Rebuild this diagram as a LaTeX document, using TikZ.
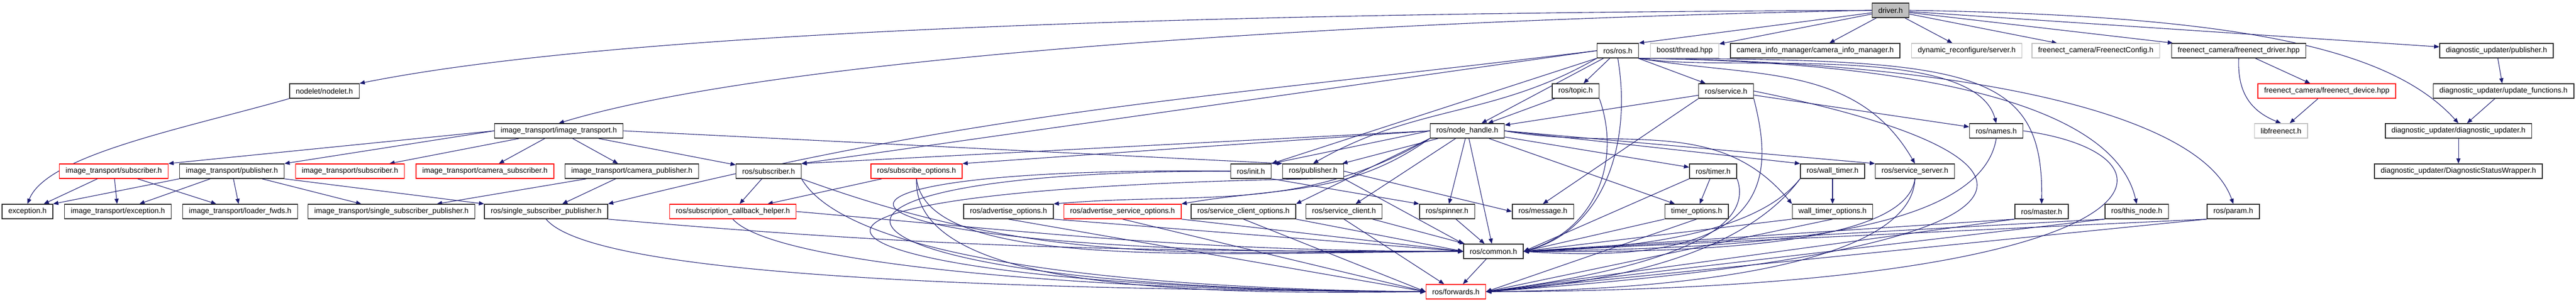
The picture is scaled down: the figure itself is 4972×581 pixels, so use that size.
\documentclass[tikz,border=0pt]{standalone}
\usepackage{fontspec}
\setmainfont{Liberation Sans}
\usepackage{xcolor}
\usetikzlibrary{arrows.meta,backgrounds}
\definecolor{edgeblue}{HTML}{191970}
\definecolor{missred}{HTML}{FF0000}
\definecolor{extgray}{HTML}{BFBFBF}

\begin{document}
\begin{tikzpicture}[x=1pt,y=-1pt,
        hdr/.style = {rectangle, draw=black!85, line width=1.5pt, fill=white, minimum height=28pt, inner xsep=12pt, inner ysep=0pt, font=\fontsize{14.4}{16}\selectfont},
        hdrred/.style = {hdr, draw=missred},
        hdrgray/.style = {hdr, draw=extgray},
        hdrroot/.style = {hdr, fill=extgray},
        dep/.style = {-{Triangle[length=10pt,width=8pt]}, line width=1.1pt, draw=edgeblue}]
    \useasboundingbox (0,0) rectangle (4972,581);

    \node[hdrroot] (driver) at (3649, 20) {driver.h};

    \node[hdr] (rosros) at (3122.5, 98) {ros/ros.h};
    \node[hdrgray] (boost) at (3251.5, 98) {boost/thread.hpp};
    \node[hdr] (caminfo) at (3503.5, 98) {camera\_info\_manager/camera\_info\_manager.h};
    \node[hdrgray] (dynrec) at (3796, 98) {dynamic\_reconfigure/server.h};
    \node[hdrgray] (fcfg) at (4045, 98) {freenect\_camera/FreenectConfig.h};
    \node[hdr] (fdriver) at (4321, 98) {freenect\_camera/freenect\_driver.hpp};
    \node[hdr] (diagpub) at (4818.5, 98) {diagnostic\_updater/publisher.h};

    \node[hdr] (nodelet) at (626, 176) {nodelet/nodelet.h};
    \node[hdr] (topic) at (3041, 176) {ros/topic.h};
    \node[hdr] (service) at (3331.5, 176) {ros/service.h};
    \node[hdrred] (fdevice) at (4491, 176) {freenect\_camera/freenect\_device.hpp};
    \node[hdr] (updfunc) at (4832, 176) {diagnostic\_updater/update\_functions.h};

    \node[hdr] (itrans) at (1078.5, 253) {image\_transport/image\_transport.h};
    \node[hdr] (nodehandle) at (2832, 253) {ros/node\_handle.h};
    \node[hdr] (names) at (3853, 253) {ros/names.h};
    \node[hdrgray] (libfn) at (4402.5, 253) {libfreenect.h};
    \node[hdr] (diagupd) at (4745, 253) {diagnostic\_updater/diagnostic\_updater.h};

    \node[hdrred] (itsubA) at (219.5, 331) {image\_transport/subscriber.h};
    \node[hdr] (itpub) at (447.5, 331) {image\_transport/publisher.h};
    \node[hdrred] (itsubB) at (675.5, 331) {image\_transport/subscriber.h};
    \node[hdrred] (itcamsub) at (936, 331) {image\_transport/camera\_subscriber.h};
    \node[hdr] (itcampub) at (1219.5, 331) {image\_transport/camera\_publisher.h};
    \node[hdr] (rossub) at (1483.5, 331) {ros/subscriber.h};
    \node[hdrred] (subopts) at (1769, 331) {ros/subscribe\_options.h};
    \node[hdr] (init) at (2414.5, 331) {ros/init.h};
    \node[hdr] (rospub) at (2534.5, 331) {ros/publisher.h};
    \node[hdr] (timer) at (3306.5, 331) {ros/timer.h};
    \node[hdr] (walltimer) at (3537, 331) {ros/wall\_timer.h};
    \node[hdr] (srvserver) at (3696, 331) {ros/service\_server.h};
    \node[hdr] (dsw) at (4745, 331) {diagnostic\_updater/DiagnosticStatusWrapper.h};

    \node[hdr] (exception) at (53, 409) {exception.h};
    \node[hdr] (itexc) at (227.5, 409) {image\_transport/exception.h};
    \node[hdr] (loader) at (463.5, 409) {image\_transport/loader\_fwds.h};
    \node[hdr] (itssp) at (755.5, 409) {image\_transport/single\_subscriber\_publisher.h};
    \node[hdr] (rosssp) at (1054, 409) {ros/single\_subscriber\_publisher.h};
    \node[hdrred] (subcb) at (1414.5, 409) {ros/subscription\_callback\_helper.h};
    \node[hdr] (advopts) at (1946.5, 409) {ros/advertise\_options.h};
    \node[hdrred] (advsrvopts) at (2166.5, 409) {ros/advertise\_service\_options.h};
    \node[hdr] (srvclopts) at (2400, 409) {ros/service\_client\_options.h};
    \node[hdr] (srvclient) at (2594, 409) {ros/service\_client.h};
    \node[hdr] (spinner) at (2793, 409) {ros/spinner.h};
    \node[hdr] (message) at (2978, 409) {ros/message.h};
    \node[hdr] (timeropts) at (3274.5, 409) {timer\_options.h};
    \node[hdr] (walltimeropts) at (3537, 409) {wall\_timer\_options.h};
    \node[hdr] (master) at (3940.5, 409) {ros/master.h};
    \node[hdr] (thisnode) at (4124, 409) {ros/this\_node.h};
    \node[hdr] (param) at (4310.5, 409) {ros/param.h};

    \node[hdr] (common) at (2882.5, 486) {ros/common.h};
    \node[hdrred] (forwards) at (2810, 564) {ros/forwards.h};

    \begin{scope}[on background layer]
    \draw[dep] (driver) to (rosros.north east);
    \draw[dep] (driver) to (boost);
    \draw[dep] (driver) to (caminfo);
    \draw[dep] (driver) to (dynrec);
    \draw[dep] (driver) to (fcfg);
    \draw[dep] (driver) to (fdriver);
    \draw[dep] (driver) to (diagpub);
    \draw[dep] (driver.west) .. controls (2300,25) and (1200,60) .. (nodelet.north east);
    \draw[dep] (driver.west) .. controls (2600,40) and (1500,110) .. (itrans.north);
    \draw[dep] (driver.east) .. controls (4350,30) and (4620,100) .. (diagupd.north);

    \draw[dep] (rosros) to (nodehandle);
    \draw[dep] (rosros) to (topic);
    \draw[dep] (rosros) to (service);
    \draw[dep] (rosros.south west) .. controls (2884,227) and (2733,202) .. (rospub.north);
    \draw[dep] (rosros.south west) to (init.north east);
    \draw[dep] (rosros.west) to (rossub.north east);
    \draw[dep] (rosros.west) .. controls (2324,191) and (1911,210) .. (rosssp.north east);
    \draw[dep] (rosros.south) .. controls (3150,274) and (3098,444) .. (common.east);
    \draw[dep] (rosros.south east) .. controls (3385,151) and (3583,121) .. (srvserver.north);
    \draw[dep] (rosros.south east) .. controls (3325,141) and (3810,79) .. (names.north);
    \draw[dep] (rosros.south east) .. controls (3800,115) and (3945,130) .. (master.north);
    \draw[dep] (rosros.south east) .. controls (3700,120) and (4080,200) .. (thisnode.north);
    \draw[dep] (rosros.south east) .. controls (3800,120) and (4250,220) .. (param.north);

    \draw[dep] (nodehandle) to (rospub);
    \draw[dep] (nodehandle.west) to (rossub.north east);
    \draw[dep] (nodehandle.west) to (subopts.north east);
    \draw[dep] (nodehandle.west) to (init.north east);
    \draw[dep] (nodehandle.south west) .. controls (2509,413) and (2323,370) .. (advopts.north east);
    \draw[dep] (nodehandle.south west) .. controls (2601,380) and (2472,361) .. (advsrvopts.north east);
    \draw[dep] (nodehandle.south west) to (srvclopts.north east);
    \draw[dep] (nodehandle) to (srvclient);
    \draw[dep] (nodehandle) to (spinner);
    \draw[dep] (nodehandle) to (common);
    \draw[dep] (nodehandle) to (timeropts);
    \draw[dep] (nodehandle) to (timer);
    \draw[dep] (nodehandle.east) to (walltimer.north west);
    \draw[dep] (nodehandle.east) to (srvserver.north west);
    \draw[dep] (nodehandle.east) .. controls (3126,293) and (3314,220) .. (walltimeropts.north west);

    \draw[dep] (topic) to (nodehandle);
    \draw[dep] (topic.south east) .. controls (3130,311) and (3080,445) .. (common.east);

    \draw[dep] (service) to (nodehandle);
    \draw[dep] (service.south west) to (message.north);
    \draw[dep] (service) to (names);
    \draw[dep] (service.south east) .. controls (3420,330) and (3440,520) .. (common.east);
    \draw[dep] (service.east) .. controls (4000,300) and (4060,480) .. (forwards.east);

    \draw[dep] (names.south) .. controls (3820,470) and (3300,480) .. (common.east);
    \draw[dep] (names.east) .. controls (4250,300) and (4200,560) .. (forwards.east);

    \draw[dep] (rospub.east) to (message.west);
    \draw[dep] (rospub.south east) to (common.north west);
    \draw[dep] (rospub.south) .. controls (1200,370) and (1550,560) .. (forwards.west);

    \draw[dep] (rossub) to (subcb);
    \draw[dep] (rossub.south east) .. controls (2022,519) and (2317,486) .. (common.west);
    \draw[dep] (rossub.south east) .. controls (1650,520) and (2300,560) .. (forwards.west);

    \draw[dep] (subopts) to (subcb);
    \draw[dep] (subopts.south) .. controls (1790,520) and (2300,490) .. (common.west);
    \draw[dep] (subopts.south) .. controls (1760,560) and (2300,570) .. (forwards.west);

    \draw[dep] (init.south east) to (spinner.north west);
    \draw[dep] (init.west) .. controls (1400,320) and (1500,500) .. (common.west);
    \draw[dep] (init.west) .. controls (1400,330) and (1500,560) .. (forwards.west);

    \draw[dep] (rosssp.south east) .. controls (1817,480) and (2176,486) .. (common.west);
    \draw[dep] (rosssp.south) .. controls (1150,540) and (2000,560) .. (forwards.west);
    \draw[dep] (subcb.east) .. controls (2038,453) and (2319,486) .. (common.west);
    \draw[dep] (subcb.south) .. controls (1500,520) and (2200,565) .. (forwards.west);

    \draw[dep] (advopts.south east) to (common.west);
    \draw[dep] (advopts.south) to (forwards.west);
    \draw[dep] (advsrvopts.south east) to (common.west);
    \draw[dep] (advsrvopts.south) to (forwards.west);
    \draw[dep] (srvclopts.south east) to (common.west);
    \draw[dep] (srvclopts.south) to (forwards.west);
    \draw[dep] (srvclient) to (common);
    \draw[dep] (srvclient.south) to (forwards);
    \draw[dep] (spinner) to (common);

    \draw[dep] (timer) to (timeropts);
    \draw[dep] (timer.south west) to (common.east);
    \draw[dep] (timer.south east) .. controls (3390,450) and (3200,520) .. (forwards.east);
    \draw[dep] (timeropts.south west) to (common.east);
    \draw[dep] (timeropts.south) to (forwards.east);

    \draw[dep] (walltimer) to (walltimeropts);
    \draw[dep] (walltimer.south west) .. controls (3400,440) and (3200,480) .. (common.east);
    \draw[dep] (walltimer.south west) .. controls (3390,460) and (3200,540) .. (forwards.east);
    \draw[dep] (walltimeropts.south west) to (common.east);
    \draw[dep] (walltimeropts.south) to (forwards.east);

    \draw[dep] (srvserver.south) .. controls (3680,470) and (3300,490) .. (common.east);
    \draw[dep] (srvserver.south) .. controls (3690,500) and (3300,560) .. (forwards.east);

    \draw[dep] (master.south west) to (common.east);
    \draw[dep] (master.south west) to (forwards.east);
    \draw[dep] (thisnode.south west) to (common.east);
    \draw[dep] (thisnode.south west) to (forwards.east);
    \draw[dep] (param.south west) to (common.east);
    \draw[dep] (param.south west) to (forwards.east);

    \draw[dep] (common) to (forwards);

    \draw[dep] (itrans.west) to (itsubA.north east);
    \draw[dep] (itrans.west) to (itpub.north east);
    \draw[dep] (itrans) to (itsubB);
    \draw[dep] (itrans) to (itcamsub);
    \draw[dep] (itrans) to (itcampub);
    \draw[dep] (itrans) to (rossub);
    \draw[dep] (itrans.east) to (rospub.north west);

    \draw[dep] (itsubA) to (exception);
    \draw[dep] (itsubA) to (itexc);
    \draw[dep] (itsubA) to (loader);
    \draw[dep] (itpub.south west) to (exception.north east);
    \draw[dep] (itpub) to (itexc);
    \draw[dep] (itpub) to (loader);
    \draw[dep] (itpub) to (itssp);
    \draw[dep] (itpub.south east) to (rosssp.north west);
    \draw[dep] (itcampub) to (itssp);
    \draw[dep] (itcampub) to (rosssp);

    \draw[dep] (nodelet.south west) .. controls (353,249) and (90,300) .. (exception.north);

    \draw[dep] (fdriver) to (fdevice);
    \draw[dep] (fdriver.south) .. controls (4318,180) and (4345,215) .. (libfn.north);
    \draw[dep] (fdevice) to (libfn);
    \draw[dep] (diagpub) to (updfunc);
    \draw[dep] (updfunc) to (diagupd);
    \draw[dep] (diagupd) to (dsw);
    \end{scope}
\end{tikzpicture}
\end{document}
